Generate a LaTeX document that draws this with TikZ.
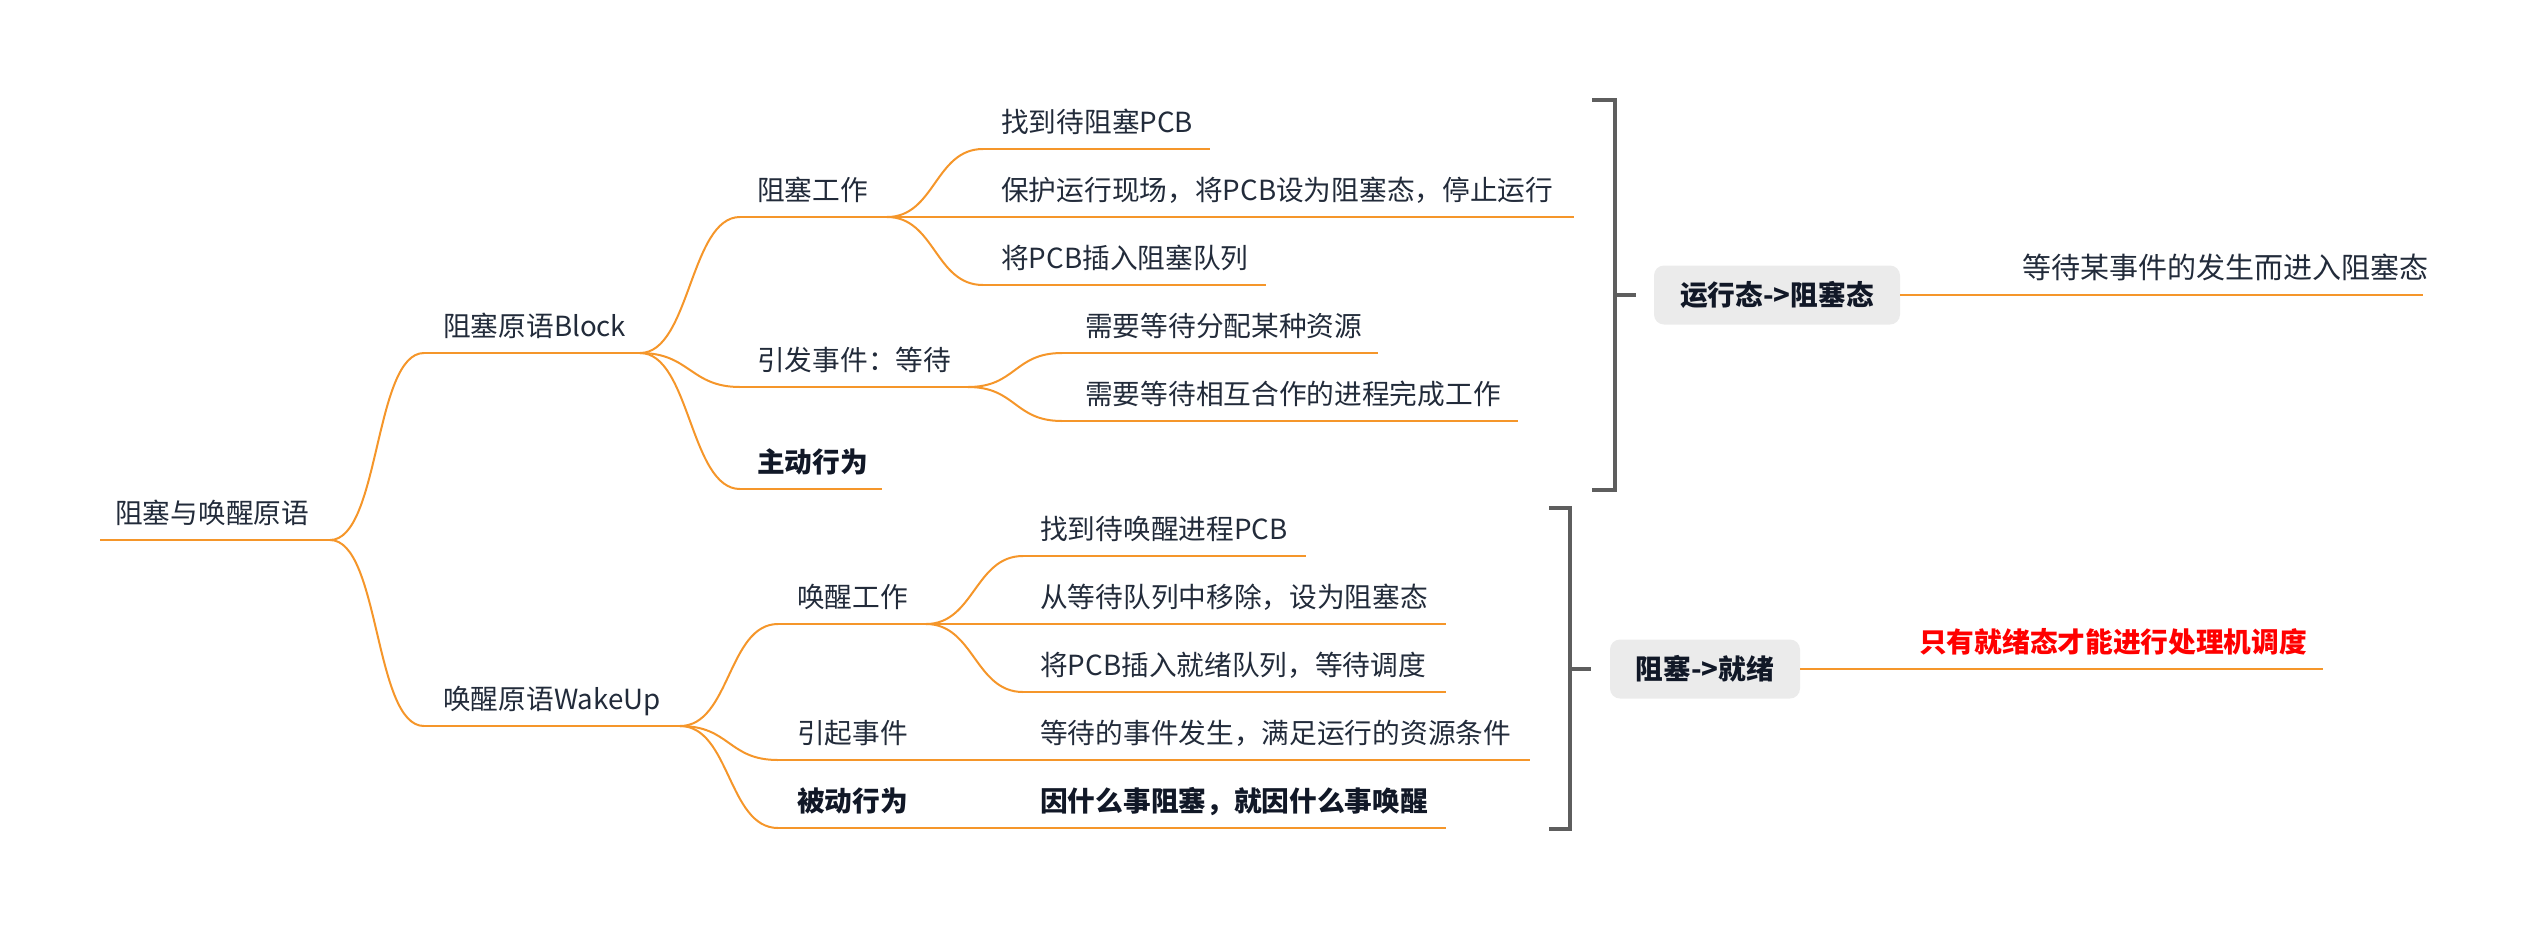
\documentclass[tikz,border=0pt]{standalone}
\usepackage{fontspec}
\setmainfont{Noto Sans CJK SC}
\usetikzlibrary{calc}
\definecolor{mmorange}{HTML}{F5962A}
\definecolor{mmtext}{HTML}{222B3A}
\definecolor{mmbold}{HTML}{111827}
\definecolor{mmgray}{HTML}{5E5E5E}
\definecolor{mmbox}{HTML}{EBEBEB}
\definecolor{mmred}{HTML}{FF0000}
\tikzset{
  mmline/.style={draw=mmorange, line width=2pt},
  topictext/.style={inner sep=0pt, anchor=base west, text=mmtext, font=\fontsize{27.7}{33}\selectfont},
  boldtext/.style={inner sep=0pt, anchor=base west, text=mmbold, font=\fontsize{27.7}{33}\selectfont\bfseries},
  curvy/.style={to path={.. controls +(#1,0) and +(-#1,0) .. (\tikztotarget)}},
  bracket/.style={draw=mmgray, line width=4pt, line join=miter},
  statebox/.style={fill=mmbox, rounded corners=10pt, inner sep=0pt, text=mmbold, font=\fontsize{27.7}{33}\selectfont\bfseries}
}
\begin{document}
\begin{tikzpicture}[x=1pt,y=-1pt]
\useasboundingbox (0,0) rectangle (2524,930);

% root
\coordinate (r-w) at (100,540); \coordinate (r-e) at (330,540);
\node[topictext] (r) at (115,523) {阻塞与唤醒原语};
\draw[mmline] (r-w) -- (r-e);

% level 1
\coordinate (blk-w) at (424,353); \coordinate (blk-e) at (640,353);
\node[topictext] (blk) at (443,336) {阻塞原语Block};
\coordinate (wk-w) at (424,726); \coordinate (wk-e) at (680,726);
\node[topictext] (wk) at (443,709) {唤醒原语WakeUp};
\draw[mmline] (blk-w) -- (blk-e);
\draw[mmline] (wk-w) -- (wk-e);

% level 2
\coordinate (z1-w) at (740,217); \coordinate (z1-e) at (887,217);
\node[topictext] (z1) at (757,200) {阻塞工作};
\coordinate (z2-w) at (740,387); \coordinate (z2-e) at (968,387);
\node[topictext] (z2) at (757,370) {引发事件：等待};
\coordinate (z3-w) at (740,489); \coordinate (z3-e) at (882,489);
\node[boldtext] (z3) at (757,472) {主动行为};
\coordinate (w1-w) at (778,624); \coordinate (w1-e) at (926,624);
\node[topictext] (w1) at (797,607) {唤醒工作};
\coordinate (w2-w) at (778,760); \coordinate (w2-e) at (921,760);
\node[topictext] (w2) at (797,743) {引起事件};
\coordinate (w3-w) at (778,828); \coordinate (w3-e) at (921,828);
\node[boldtext] (w3) at (797,811) {被动行为};
\foreach \n in {z1,z2,z3,w1,w2,w3} {\draw[mmline] (\n-w) -- (\n-e);}

% level 3
\coordinate (a1-w) at (983,149); \coordinate (a1-e) at (1210,149);
\node[topictext] (a1) at (1001,132) {找到待阻塞PCB};
\coordinate (a2-w) at (983,217); \coordinate (a2-e) at (1574,217);
\node[topictext] (a2) at (1001,200) {保护运行现场，将PCB设为阻塞态，停止运行};
\coordinate (a3-w) at (983,285); \coordinate (a3-e) at (1266,285);
\node[topictext] (a3) at (1001,268) {将PCB插入阻塞队列};
\coordinate (b1-w) at (1062,353); \coordinate (b1-e) at (1378,353);
\node[topictext] (b1) at (1085,336) {需要等待分配某种资源};
\coordinate (b2-w) at (1062,421); \coordinate (b2-e) at (1518,421);
\node[topictext] (b2) at (1085,404) {需要等待相互合作的进程完成工作};
\coordinate (c1-w) at (1023,556); \coordinate (c1-e) at (1306,556);
\node[topictext] (c1) at (1040,539) {找到待唤醒进程PCB};
\coordinate (c2-w) at (1023,624); \coordinate (c2-e) at (1446,624);
\node[topictext] (c2) at (1040,607) {从等待队列中移除，设为阻塞态};
\coordinate (c3-w) at (1023,692); \coordinate (c3-e) at (1446,692);
\node[topictext] (c3) at (1040,675) {将PCB插入就绪队列，等待调度};
\coordinate (d1-w) at (1023,760); \coordinate (d1-e) at (1530,760);
\node[topictext] (d1) at (1040,743) {等待的事件发生，满足运行的资源条件};
\coordinate (e1-w) at (1023,828); \coordinate (e1-e) at (1446,828);
\node[boldtext] (e1) at (1040,811) {因什么事阻塞，就因什么事唤醒};
\foreach \n in {a1,a2,a3,b1,b2,c1,c2,c3,d1,e1} {\draw[mmline] (\n-w) -- (\n-e);}

% branches
\draw[mmline] (r-e) to[curvy=50] (blk-w);
\draw[mmline] (r-e) to[curvy=50] (wk-w);
\foreach \n in {z1,z2,z3} {\draw[mmline] (blk-e) to[curvy=50] (\n-w);}
\foreach \n in {w1,w2,w3} {\draw[mmline] (wk-e) to[curvy=50] (\n-w);}
\foreach \n in {a1,a2,a3} {\draw[mmline] (z1-e) to[curvy=48] (\n-w);}
\foreach \n in {b1,b2} {\draw[mmline] (z2-e) to[curvy=48] (\n-w);}
\foreach \n in {c1,c2,c3} {\draw[mmline] (w1-e) to[curvy=48] (\n-w);}
\draw[mmline] (w2-e) -- (d1-w);
\draw[mmline] (w3-e) -- (e1-w);

% brackets
\coordinate (k1t) at (1592,100); \coordinate (k1b) at (1592,490);
\coordinate (k1m) at (1615,295); \coordinate (k1x) at (1636,295);
\draw[bracket] (k1t) -| (k1m) |- (k1b);
\draw[bracket] (k1m) -- (k1x);
\coordinate (k2t) at (1549,508); \coordinate (k2b) at (1549,829);
\coordinate (k2m) at (1570,669); \coordinate (k2x) at (1591,669);
\draw[bracket] (k2t) -| (k2m) |- (k2b);
\draw[bracket] (k2m) -- (k2x);

% summary boxes
\node[statebox, minimum width=246pt, minimum height=59pt] (s1) at (1777,295) {运行态->阻塞态};
\node[statebox, minimum width=190pt, minimum height=59pt] (s2) at (1705,669) {阻塞->就绪};

\coordinate (s1-x) at (2423,295);
\draw[mmline] (s1.east) -- (s1-x);
\node[inner sep=0pt, anchor=base west, text=mmtext, font=\fontsize{29}{35}\selectfont] (n1) at (2022,278) {等待某事件的发生而进入阻塞态};

\coordinate (s2-x) at (2323,669);
\draw[mmline] (s2.east) -- (s2-x);
\node[inner sep=0pt, anchor=base west, text=mmred, font=\fontsize{27.7}{33}\selectfont\bfseries] (n2) at (1919,652) {只有就绪态才能进行处理机调度};
\end{tikzpicture}
\end{document}
